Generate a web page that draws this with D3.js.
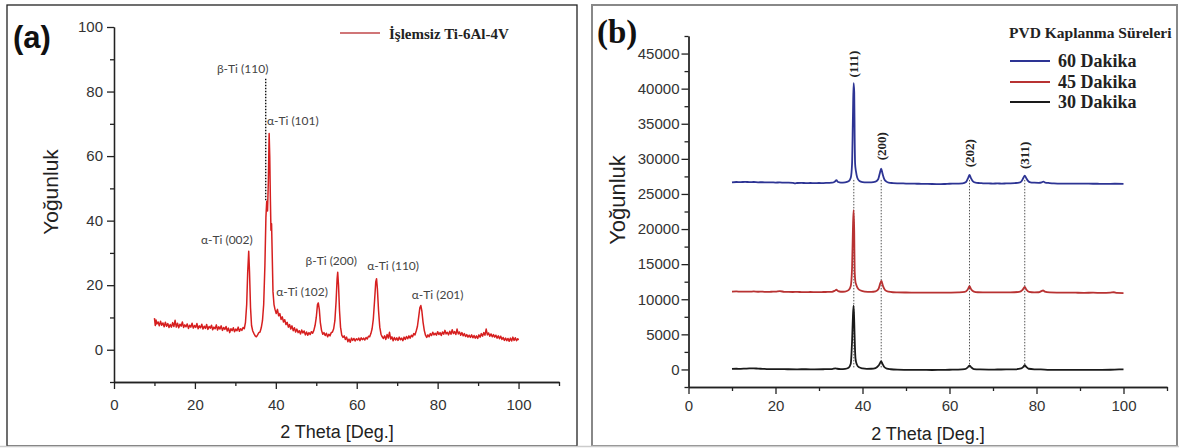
<!DOCTYPE html>
<html>
<head>
<meta charset="utf-8">
<script src="https://cdn.jsdelivr.net/npm/d3@7"></script>
<style>
body { margin: 0; background: #fff; }
svg { display: block; font-family: "Liberation Sans", Arial, sans-serif; }
.axis path, .axis line { stroke: #222; stroke-width: 1.3; }
.axis text { fill: #333; font-size: 15px; font-family: "Liberation Sans", Arial, sans-serif; }
.serif { font-family: "Liberation Serif", "Times New Roman", serif; font-weight: bold; }
</style>
</head>
<body>
<svg width="1179" height="448"></svg>
<script>
var thetaTicks = [0, 20, 40, 60, 80, 100],
    thetaMinor = [10, 30, 50, 70, 90, 110];
var yTicksA = [0, 20, 40, 60, 80, 100],
    yMinorA = [-10, 10, 30, 50, 70, 90];
var yTicksB = [0, 5000, 10000, 15000, 20000, 25000, 30000, 35000, 40000, 45000],
    yMinorB = [-2500, 2500, 7500, 12500, 17500, 22500, 27500, 32500, 37500, 42500, 47500];

// (a) untreated Ti-6Al-4V, [2theta, intensity]
var untreated = [
  [10.0,9.8],[10.2,7.5],[10.4,9.2],[10.6,8.0],[10.9,8.6],[11.2,7.4],[11.5,8.8],[11.8,7.6],[12.1,8.3],[12.4,7.1],
  [12.7,8.5],[13.0,7.3],[13.3,8.1],[13.6,6.9],[13.9,7.8],[14.2,7.0],[14.5,8.4],[14.8,7.2],[15.1,9.1],[15.4,7.0],
  [15.7,8.2],[16.0,6.8],[16.3,7.9],[16.6,7.3],[16.9,8.6],[17.2,6.9],[17.5,7.7],[17.8,7.1],[18.1,8.0],[18.4,6.6],
  [18.7,7.6],[19.0,7.0],[19.3,8.2],[19.6,6.7],[19.9,7.5],[20.2,6.9],[20.5,8.1],[20.8,6.5],[21.1,7.4],[21.4,6.8],
  [21.7,7.9],[22.0,6.4],[22.3,7.3],[22.6,6.6],[22.9,7.8],[23.2,6.3],[23.5,7.2],[23.8,6.7],[24.1,7.6],[24.4,6.2],
  [24.7,7.0],[25.0,6.5],[25.3,7.7],[25.6,6.1],[25.9,7.1],[26.2,6.4],[26.5,7.4],[26.8,6.0],[27.1,6.9],[27.4,6.3],
  [27.7,7.2],[28.0,5.8],[28.3,6.7],[28.6,5.3],[28.9,6.5],[29.2,5.9],[29.5,6.8],[29.8,5.6],[30.1,6.4],[30.4,5.9],
  [30.7,7.0],[31.0,5.7],[31.3,6.5],[31.6,6.0],[31.9,6.9],[32.2,6.5],[32.5,8.5],[32.8,14],[33.05,24],[33.3,30.5],
  [33.5,24],[33.75,13],[34.0,7.5],[34.3,5.8],[34.6,5.0],[34.9,4.3],[35.2,4.0],[35.5,4.6],[35.8,5.3],[36.1,5.5],
  [36.4,6.8],[36.7,9],[37.0,14],[37.3,26],[37.55,41],[37.75,46],[37.95,43],[38.15,52],[38.35,67],[38.5,60],
  [38.65,47],[38.8,37],[38.95,39],[39.1,30],[39.3,18],[39.55,14],[39.8,12.5],[40.1,11.2],[40.4,12.5],[40.7,10.5],
  [41.0,11.2],[41.3,9.4],[41.6,10.2],[41.9,8.6],[42.2,9.3],[42.5,7.8],[42.8,8.5],[43.1,7.0],[43.4,7.8],[43.7,6.4],
  [44.0,7.4],[44.3,5.9],[44.6,6.8],[44.9,5.5],[45.2,6.4],[45.5,5.3],[45.8,5.9],[46.1,4.9],[46.4,6.1],[46.7,5.2],
  [47.0,5.8],[47.3,4.6],[47.6,5.5],[47.9,4.5],[48.2,5.3],[48.5,4.7],[48.8,5.6],[49.1,5.1],[49.4,6.0],[49.7,7.5],
  [50.0,10],[50.3,14],[50.5,14.5],[50.75,12.5],[51.0,8.5],[51.3,6.0],[51.6,4.8],[51.9,5.3],[52.2,4.4],[52.5,5.1],
  [52.8,4.0],[53.1,4.8],[53.4,4.3],[53.7,5.3],[54.0,5.5],[54.3,6.5],[54.6,9],[54.9,15],[55.15,22],[55.3,24],
  [55.5,20],[55.75,12],[56.0,7.0],[56.3,4.5],[56.6,3.8],[56.9,4.3],[57.2,3.2],[57.5,3.9],[57.8,2.5],[58.1,3.3],
  [58.4,2.3],[58.7,3.6],[59.0,2.9],[59.3,3.5],[59.6,2.7],[59.9,3.4],[60.2,3.0],[60.5,3.6],[60.8,2.8],[61.1,3.7],
  [61.4,3.1],[61.7,3.6],[62.0,3.0],[62.3,3.8],[62.6,3.3],[62.9,4.2],[63.2,4.0],[63.5,5.0],[63.8,6.5],[64.1,9.5],
  [64.4,15],[64.7,21],[64.9,22],[65.1,19],[65.4,12],[65.7,7],[66.0,4.8],[66.3,4.0],[66.6,3.5],[66.9,4.3],
  [67.2,3.2],[67.5,4.7],[67.8,3.6],[68.1,5.4],[68.4,3.3],[68.7,4.0],[69.0,2.8],[69.3,3.8],[69.6,3.0],[69.9,3.7],
  [70.2,2.9],[70.5,3.9],[70.8,3.1],[71.1,3.6],[71.4,2.8],[71.7,3.9],[72.0,3.2],[72.3,4.1],[72.6,3.4],[72.9,4.3],
  [73.2,3.6],[73.5,4.5],[73.8,4.0],[74.1,5.0],[74.4,4.6],[74.7,5.8],[75.0,7.2],[75.3,10],[75.6,13],[75.85,13.7],
  [76.1,12],[76.4,8.5],[76.7,6.0],[77.0,4.5],[77.3,3.8],[77.6,4.6],[77.9,4.0],[78.2,5.0],[78.5,4.4],[78.8,5.4],
  [79.1,4.6],[79.4,5.1],[79.7,4.5],[80.0,5.6],[80.3,4.7],[80.6,5.3],[80.9,4.4],[81.2,5.5],[81.5,4.8],[81.8,6.0],
  [82.1,4.9],[82.4,5.4],[82.7,4.6],[83.0,5.7],[83.3,4.8],[83.6,6.2],[83.9,5.0],[84.2,5.6],[84.5,4.7],[84.8,6.4],
  [85.1,4.9],[85.4,5.5],[85.7,4.5],[86.0,5.3],[86.3,4.3],[86.6,5.0],[86.9,4.1],[87.2,4.7],[87.5,3.9],[87.8,4.5],
  [88.1,3.8],[88.4,4.6],[88.7,3.7],[89.0,4.4],[89.3,3.6],[89.6,4.3],[89.9,3.5],[90.2,4.6],[90.5,3.9],[90.8,5.0],
  [91.1,4.2],[91.4,5.3],[91.7,4.5],[92.0,6.4],[92.3,4.6],[92.6,5.2],[92.9,4.2],[93.2,4.9],[93.5,4.0],[93.8,4.7],
  [94.1,3.9],[94.4,4.5],[94.7,3.6],[95.0,4.3],[95.3,3.4],[95.6,4.2],[95.9,3.2],[96.2,3.8],[96.5,2.9],[96.8,3.6],
  [97.1,2.8],[97.4,3.5],[97.7,2.6],[98.0,3.6],[98.3,2.7],[98.6,3.9],[98.9,2.9],[99.2,3.7],[99.5,2.8],[99.8,3.4],
  [100.0,3.0]
];

// (b) PVD coating times
var dakika60 = [
  [10,26650],[11,26700],[12,26680],[13,26720],[14,26690],[15,26700],[16,26660],[17,26670],[18,26640],[19,26650],
  [20,26620],[21,26640],[22,26600],[23,26610],[24,26580],[24.5,26500],[25,26560],[26,26570],[27,26550],[28,26560],
  [29,26540],[30,26560],[31,26550],[32,26580],[33,26600],[33.6,26750],[34,26950],[34.4,26700],[35,26620],[36,26650],
  [36.8,26800],[37.3,27300],[37.6,29300],[37.8,36000],[37.95,40800],[38.1,39500],[38.2,33000],[38.3,29300],[38.5,28200],[38.8,27300],
  [39.3,26850],[40,26700],[41,26650],[42,26650],[43,26750],[43.6,27100],[44.0,28000],[44.3,28600],[44.6,27900],[45.0,27100],
  [45.5,26750],[46,26600],[47,26550],[48,26520],[49,26500],[50,26480],[51,26470],[52,26460],[53,26450],[54,26440],
  [55,26430],[56,26420],[57,26410],[58,26400],[59,26420],[60,26450],[61,26460],[62,26470],[63,26500],[63.8,26700],
  [64.3,27300],[64.6,27700],[64.9,27300],[65.4,26800],[66,26600],[67,26550],[68,26500],[69,26500],[70,26480],[71,26500],
  [72,26480],[73,26500],[74,26520],[75,26550],[76,26600],[76.6,26850],[77.0,27300],[77.3,27600],[77.6,27300],[78,26900],
  [78.6,26650],[79.5,26600],[80.5,26580],[81.2,26650],[81.6,26750],[82,26620],[83,26550],[84,26500],[85,26480],[86,26470],
  [88,26460],[90,26470],[92,26460],[94,26450],[96,26440],[98,26450],[100,26430]
];
var dakika45 = [
  [10,11100],[11,11120],[12,11080],[13,11100],[14,11090],[15,11110],[16,11070],[17,11080],[18,11050],[19,11070],
  [20,11080],[21,11150],[22,11060],[23,11040],[24,11030],[25,11050],[26,11020],[27,11010],[28,11030],[29,11020],
  [30,11010],[31,11030],[32,11040],[33,11060],[33.6,11200],[34,11350],[34.4,11150],[35,11070],[36,11100],[36.8,11300],
  [37.3,11900],[37.6,14500],[37.8,20000],[37.95,22700],[38.1,19500],[38.2,14000],[38.35,12600],[38.6,12000],[39,11500],[39.6,11250],
  [40.5,11100],[42,11050],[43,11120],[43.7,11500],[44.1,12300],[44.35,12600],[44.7,11900],[45.2,11300],[46,11080],[47,11000],
  [48,10980],[50,10960],[52,10950],[54,10940],[56,10930],[58,10940],[60,10950],[62,10980],[63.5,11050],[64.2,11400],
  [64.6,11850],[65,11400],[65.6,11100],[66.5,11000],[68,10980],[70,10970],[72,10980],[74,10990],[76,11050],[76.8,11350],
  [77.3,11750],[77.7,11350],[78.3,11050],[79.5,10980],[80.5,11000],[81.1,11150],[81.5,11250],[81.9,11100],[83,10980],[85,10950],
  [87,10940],[89,10930],[91,10920],[93,10930],[95,10910],[97,10950],[97.8,11000],[98.5,10900],[100,10880]
];
var dakika30 = [
  [10,80],[11,100],[12,90],[13,120],[14,150],[15,160],[16,110],[17,90],[18,60],[19,50],
  [20,40],[21,60],[22,40],[23,30],[25,20],[27,30],[29,20],[31,30],[33,60],[33.8,150],
  [34.2,100],[35,60],[36,90],[36.8,250],[37.3,800],[37.6,4000],[37.8,7500],[37.95,9100],[38.1,6800],[38.25,3300],
  [38.4,1500],[38.7,700],[39.2,300],[40,150],[41,90],[42,100],[43,200],[43.7,550],[44.1,1000],[44.3,1150],
  [44.6,800],[45,350],[45.6,120],[46.5,30],[48,-30],[50,-50],[52,-60],[54,-70],[56,-80],[58,-60],
  [60,-40],[62,-20],[63.5,40],[64.2,300],[64.6,550],[65,300],[65.6,60],[67,0],[69,-20],[71,-10],
  [73,0],[75,20],[76.5,150],[77.0,400],[77.3,600],[77.6,400],[78.2,100],[79.5,20],[81,0],[83,-50],
  [85,-60],[87,-70],[89,-60],[91,-70],[93,-50],[95,-60],[97,-40],[99,0],[100,10]
];

var seriesNamesB = ["60 Dakika", "45 Dakika", "30 Dakika"];
var peakLabelsA = ["β-Ti (110)", "α-Ti (101)", "α-Ti (002)", "α-Ti (102)", "β-Ti (200)", "α-Ti (110)", "α-Ti (201)"];
var peakLabelThetaA = [31.8, 44.2, 27.9, 46.5, 53.7, 69.0, 80.0];
var peakLabelIntA = [87, 71, 34, 18, 27.5, 26, 17];
var peakLabelsB = ["(111)", "(200)", "(202)", "(311)"];
var peakThetaB = [38.0, 44.3, 64.6, 77.3];
var peakLabelIntB = [43500, 31800, 30800, 30500];

var svg = d3.select("svg");

// panel frames
svg.append("rect").attr("x", 7).attr("y", 5).attr("width", 570).attr("height", 441)
    .attr("fill", "none").attr("stroke", "#222").attr("stroke-width", 1.3);
svg.append("rect").attr("x", 592).attr("y", 5).attr("width", 585).attr("height", 441)
    .attr("fill", "none").attr("stroke", "#888").attr("stroke-width", 2);
svg.append("line").attr("x1", 0).attr("x2", 1179).attr("y1", 446.5).attr("y2", 446.5)
    .attr("stroke", "#ccc").attr("stroke-width", 1.5);

var xA = d3.scaleLinear().domain([0, 110]).range([114, 559]),
    yA = d3.scaleLinear().domain([-10, 100]).range([382, 27]);
var xB = d3.scaleLinear().domain([0, 110]).range([688.5, 1167]),
    yB = d3.scaleLinear().domain([-2500, 47500]).range([387, 36]);

function drawAxes(x, y, yMajor, yMinor, xPad, yPad) {
  var x0 = x.range()[0], yb = y.range()[0];
  svg.append("g").attr("class", "axis")
      .attr("transform", "translate(0," + yb + ")")
      .call(d3.axisBottom(x).tickValues(thetaMinor).tickSize(4).tickSizeOuter(0).tickFormat(""));
  svg.append("g").attr("class", "axis")
      .attr("transform", "translate(0," + yb + ")")
      .call(d3.axisBottom(x).tickValues(thetaTicks).tickSize(7).tickSizeOuter(0).tickPadding(xPad));
  svg.append("g").attr("class", "axis")
      .attr("transform", "translate(" + x0 + ",0)")
      .call(d3.axisLeft(y).tickValues(yMinor).tickSize(4).tickSizeOuter(0).tickFormat(""));
  svg.append("g").attr("class", "axis")
      .attr("transform", "translate(" + x0 + ",0)")
      .call(d3.axisLeft(y).tickValues(yMajor).tickSize(7).tickSizeOuter(0).tickPadding(yPad)
        .tickFormat(d3.format("d")));
}

drawAxes(xA, yA, yTicksA, yMinorA, 10, 4);
drawAxes(xB, yB, yTicksB, yMinorB, 6, 2);

// axis titles
svg.append("text").attr("transform", "translate(58,192) rotate(-90)")
    .attr("text-anchor", "middle").attr("font-size", 21).attr("fill", "#222").text("Yoğunluk");
svg.append("text").attr("x", 337).attr("y", 438)
    .attr("text-anchor", "middle").attr("font-size", 18).attr("fill", "#222").text("2 Theta [Deg.]");
svg.append("text").attr("transform", "translate(625,200) rotate(-90)")
    .attr("text-anchor", "middle").attr("font-size", 22).attr("fill", "#222").text("Yoğunluk");
svg.append("text").attr("x", 928).attr("y", 440)
    .attr("text-anchor", "middle").attr("font-size", 18).attr("fill", "#222").text("2 Theta [Deg.]");

// panel letters
svg.append("text").attr("x", 13).attr("y", 48).attr("font-size", 31).attr("font-weight", "bold")
    .attr("fill", "#111").text("(a)");
svg.append("text").attr("class", "serif").attr("x", 597).attr("y", 43).attr("font-size", 33)
    .attr("fill", "#111").text("(b)");

// ---- panel (a) ----
var lineA = d3.line().x(function(d) { return xA(d[0]); }).y(function(d) { return yA(d[1]); });

svg.append("line")
    .attr("x1", xA(37.5)).attr("x2", xA(37.5))
    .attr("y1", yA(84)).attr("y2", yA(46))
    .attr("stroke", "#111").attr("stroke-width", 1.4).attr("stroke-dasharray", "1.5,1.5");

svg.append("path").datum(untreated)
    .attr("fill", "none").attr("stroke", "#d61f1f").attr("stroke-width", 1.5)
    .attr("stroke-linejoin", "round").attr("d", lineA);

svg.selectAll(".lblA").data(peakLabelsA).enter().append("text")
    .attr("class", "lblA")
    .attr("x", function(d, i) { return xA(peakLabelThetaA[i]); })
    .attr("y", function(d, i) { return yA(peakLabelIntA[i]); })
    .attr("text-anchor", "middle").attr("dy", "0.35em")
    .attr("font-family", "Lato, 'Open Sans', sans-serif").attr("font-size", 12)
    .attr("fill", "#444").text(function(d) { return d; });

// legend (a)
svg.append("line").attr("x1", 340).attr("x2", 380).attr("y1", 33).attr("y2", 33)
    .attr("stroke", "#c0474a").attr("stroke-width", 1.5);
svg.append("text").attr("class", "serif").attr("x", 389).attr("y", 34).attr("dy", "0.3em")
    .attr("font-size", 15).attr("fill", "#222").text("İşlemsiz Ti-6Al-4V");

// ---- panel (b) ----
var lineB = d3.line().x(function(d) { return xB(d[0]); }).y(function(d) { return yB(d[1]); })
    .curve(d3.curveMonotoneX);

svg.selectAll(".guideB").data(peakThetaB).enter().append("line")
    .attr("class", "guideB")
    .attr("x1", function(d) { return xB(d); }).attr("x2", function(d) { return xB(d); })
    .attr("y1", yB(27000)).attr("y2", yB(100))
    .attr("stroke", "#555").attr("stroke-width", 1).attr("stroke-dasharray", "1.5,1.5");

var colorsB = ["#2d3494", "#b83232", "#1a1a1a"];
[dakika60, dakika45, dakika30].forEach(function(s, i) {
  svg.append("path").datum(s)
      .attr("fill", "none").attr("stroke", colorsB[i]).attr("stroke-width", 1.8)
      .attr("stroke-linejoin", "round").attr("d", lineB);
});

svg.selectAll(".lblB").data(peakLabelsB).enter().append("text")
    .attr("class", "lblB serif")
    .attr("transform", function(d, i) {
      return "translate(" + xB(peakThetaB[i]) + "," + yB(peakLabelIntB[i]) + ") rotate(-90)";
    })
    .attr("text-anchor", "middle").attr("dy", "0.35em").attr("font-size", 13)
    .attr("fill", "#222").text(function(d) { return d; });

// legend (b)
svg.append("text").attr("class", "serif").attr("x", 1009).attr("y", 33).attr("dy", "0.3em")
    .attr("font-size", 15.5).attr("fill", "#222").text("PVD Kaplanma Süreleri");
var legY = [61, 82, 102];
seriesNamesB.forEach(function(n, i) {
  svg.append("line").attr("x1", 1010).attr("x2", 1050).attr("y1", legY[i]).attr("y2", legY[i])
      .attr("stroke", colorsB[i]).attr("stroke-width", 1.8);
  svg.append("text").attr("class", "serif").attr("x", 1058).attr("y", legY[i]).attr("dy", "0.35em")
      .attr("font-size", 18).attr("fill", "#222").text(n);
});
</script>
</body>
</html>
